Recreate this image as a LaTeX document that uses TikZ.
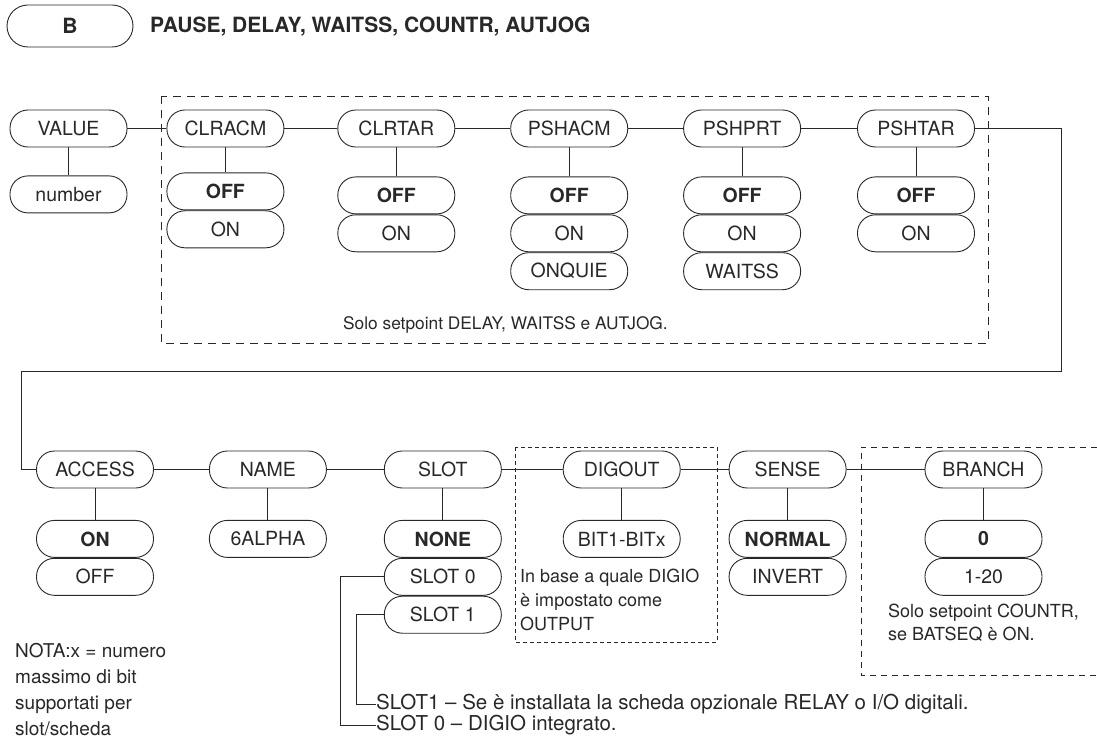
\documentclass[tikz,border=0pt]{standalone}
\usepackage{fontspec}
\setmainfont{TeX Gyre Heros}
\usetikzlibrary{positioning}
\definecolor{inkgrey}{RGB}{40,40,40}
\tikzset{
  menubox/.style={rectangle, rounded corners=18pt, draw=inkgrey, line width=0.9pt,
    minimum width=117pt, minimum height=37pt, inner sep=0pt, text=inkgrey,
    font=\fontsize{19.5}{22}\selectfont},
  titlebox/.style={menubox, minimum width=126pt, minimum height=42pt,
    rounded corners=21pt, font=\fontsize{21}{23}\selectfont\bfseries},
  menuline/.style={draw=inkgrey, line width=0.9pt},
  notetext/.style={inner sep=0pt, align=left, text=inkgrey,
    font=\fontsize{18}{24}\selectfont},
}

\begin{document}
\begin{tikzpicture}[x=1pt, y=-1pt, node distance=29pt]
\useasboundingbox (0,0) rectangle (1097,738);

% heading
\node[titlebox] (tag) at (70,26) {B};
\node[anchor=west, inner sep=0pt, text=inkgrey,
  font=\fontsize{21}{23}\selectfont\bfseries] (title) at (150,27)
  {PAUSE, DELAY, WAITSS, COUNTR, AUTJOG};

% first row
\node[menubox] (value) at (68.5,128.5) {VALUE};
\node[menubox, right=39pt of value] (clracm) {CLRACM};
\node[menubox, right=53pt of clracm] (clrtar) {CLRTAR};
\node[menubox, right=55pt of clrtar] (pshacm) {PSHACM};
\node[menubox, right=55pt of pshacm] (pshprt) {PSHPRT};
\node[menubox, right=56pt of pshprt] (pshtar) {PSHTAR};

\node[menubox, below=28pt of value] (number) {number};
\node[menubox, below=25pt of clracm] (clracmoff) {\textbf{OFF}};
\node[menubox, below=0pt of clracmoff] (clracmon) {ON};
\node[menubox, below=of clrtar] (clrtaroff) {\textbf{OFF}};
\node[menubox, below=0pt of clrtaroff] (clrtaron) {ON};
\node[menubox, below=of pshacm] (pshacmoff) {\textbf{OFF}};
\node[menubox, below=0pt of pshacmoff] (pshacmon) {ON};
\node[menubox, below=0pt of pshacmon] (onquie) {ONQUIE};
\node[menubox, below=of pshprt] (pshprtoff) {\textbf{OFF}};
\node[menubox, below=0pt of pshprtoff] (pshprton) {ON};
\node[menubox, below=0pt of pshprton] (waitss) {WAITSS};
\node[menubox, below=of pshtar] (pshtaroff) {\textbf{OFF}};
\node[menubox, below=0pt of pshtaroff] (pshtaron) {ON};

\draw[menuline, dash pattern=on 8pt off 6pt] (161,96) rectangle (988,343);
\node[notetext, anchor=west, font=\fontsize{17.3}{20}\selectfont] (onlydelay)
  at (343,325) {Solo setpoint DELAY, WAITSS e AUTJOG.};

\draw[menuline] (value)--(clracm);
\draw[menuline] (clracm)--(clrtar);
\draw[menuline] (clrtar)--(pshacm);
\draw[menuline] (pshacm)--(pshprt);
\draw[menuline] (pshprt)--(pshtar);
\draw[menuline] (value)--(number);
\draw[menuline] (clracm)--(clracmoff);
\draw[menuline] (clrtar)--(clrtaroff);
\draw[menuline] (pshacm)--(pshacmoff);
\draw[menuline] (pshprt)--(pshprtoff);
\draw[menuline] (pshtar)--(pshtaroff);

% second row
\node[menubox] (access) at (95,469.5) {ACCESS};
\node[menubox, right=55pt of access] (name) {NAME};
\node[menubox, right=57pt of name] (slot) {SLOT};
\node[menubox, right=61pt of slot] (digout) {DIGOUT};
\node[menubox, right=48pt of digout] (sense) {SENSE};
\node[menubox, right=78pt of sense] (branch) {BRANCH};

\node[menubox, below=31.5pt of access] (accesson) {\textbf{ON}};
\node[menubox, below=0pt of accesson] (accessoff) {OFF};
\node[menubox, below=31.5pt of name] (alpha) {6ALPHA};
\node[menubox, below=31.5pt of slot] (slotnone) {\textbf{NONE}};
\node[menubox, below=0pt of slotnone] (slot0) {SLOT 0};
\node[menubox, below=0pt of slot0] (slot1) {SLOT 1};
\node[menubox, below=31.5pt of digout] (bits) {BIT1-BITx};
\node[menubox, below=31.5pt of sense] (normal) {\textbf{NORMAL}};
\node[menubox, below=0pt of normal] (invert) {INVERT};
\node[menubox, below=31.5pt of branch] (branchzero) {\textbf{0}};
\node[menubox, below=0pt of branchzero] (branchrange) {1-20};

\coordinate (wrapR) at (1061,371);
\coordinate (wrapL) at (21,371);
\draw[menuline] (pshtar.east) -| (wrapR) -- (wrapL) |- (access.west);

\draw[menuline] (access)--(name);
\draw[menuline] (name)--(slot);
\draw[menuline] (slot)--(digout);
\draw[menuline] (digout)--(sense);
\draw[menuline] (sense)--(branch);
\draw[menuline] (access)--(accesson);
\draw[menuline] (name)--(alpha);
\draw[menuline] (slot)--(slotnone);
\draw[menuline] (digout)--(bits);
\draw[menuline] (sense)--(normal);
\draw[menuline] (branch)--(branchzero);

\draw[menuline, line width=0.7pt, dash pattern=on 4pt off 3pt] (515,447) rectangle (717,642);
\node[notetext, anchor=north west] (digionote) at (520,569)
  {In base a quale DIGIO\\è impostato come\\OUTPUT};
\draw[menuline, line width=0.8pt, dash pattern=on 6pt off 5pt]
  (1097,447) -| (861,675) -- (1097,675);
\node[notetext, anchor=north west, font=\fontsize{18}{23}\selectfont] (countrnote)
  at (888,604) {Solo setpoint COUNTR,\\se BATSEQ è ON.};

% slot notes
\node[notetext, anchor=west, font=\fontsize{20.5}{24}\selectfont] (slot1note)
  at (376,704) {SLOT1 – Se è installata la scheda opzionale RELAY o I/O digitali.};
\node[notetext, anchor=west, font=\fontsize{20.5}{24}\selectfont] (slot0note)
  at (376,725) {SLOT 0 – DIGIO integrato.};
\draw[menuline] (slot0.west) -- ([xshift=-43pt]slot0.west) |- (slot0note.west);
\draw[menuline] (slot1.west) -- ([xshift=-27pt]slot1.west) |- (slot1note.west);

\node[notetext, anchor=north west, font=\fontsize{19}{26}\selectfont] (nota)
  at (15,643) {NOTA:x = numero\\massimo di bit\\supportati per\\slot/scheda};
\end{tikzpicture}
\end{document}
